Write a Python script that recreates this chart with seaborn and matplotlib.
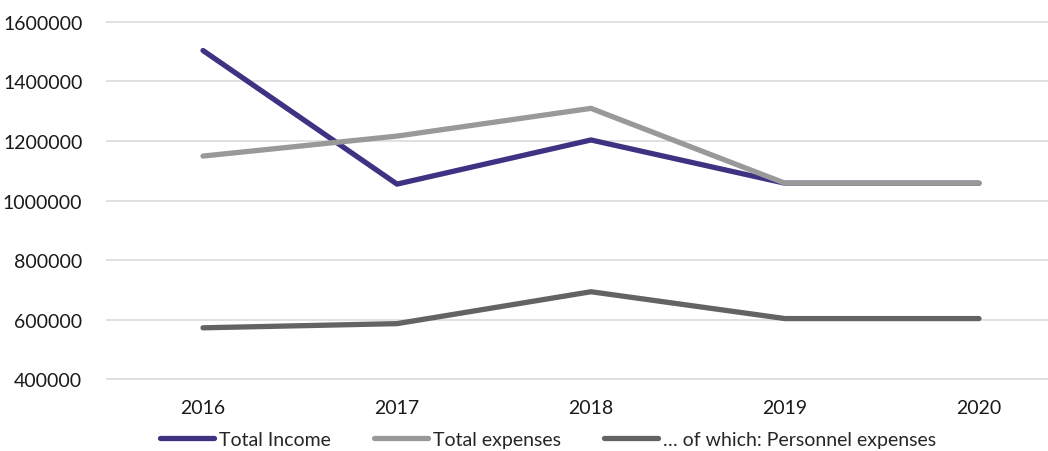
import pandas as pd
import matplotlib.pyplot as plt
import matplotlib.ticker as mticker
import seaborn as sns

# --- Datos ---
years = ['2016', '2017', '2018', '2019', '2020']
total_income = [1503000, 1055000, 1203000, 1058000, 1058000]
total_expenses = [1149000, 1216000, 1309000, 1058000, 1058000]
personnel_expenses = [573000, 587000, 694000, 604000, 604000]

series_names = ['Total Income', 'Total expenses', '\u2026 of which: Personnel expenses']
colors = ['#3d3382', '#999999', '#636363']

df = pd.DataFrame({
    'year': years * 3,
    'value': total_income + total_expenses + personnel_expenses,
    'series': [series_names[0]] * 5 + [series_names[1]] * 5 + [series_names[2]] * 5,
})

# --- Estilo ---
sns.set_style("white")
plt.rcParams['font.family'] = ['Lato', 'DejaVu Sans']

fig = plt.figure(figsize=(10.48, 4.52), dpi=100)
ax = fig.add_axes([106 / 1048, 1 - 381 / 452, 1 - 106 / 1048, (381 - 22) / 452])

sns.lineplot(data=df, x='year', y='value', hue='series', palette=colors,
             hue_order=series_names, linewidth=3.8, ax=ax, sort=False)
for line in ax.lines:
    line.set_solid_capstyle('round')
    line.set_solid_joinstyle('round')

ax.set_xlim(-0.5, 4 + (1048 - 979) / 194)
ax.set_ylim(398000, 1602000)
ax.set_yticks(range(400000, 1600001, 200000))
ax.yaxis.set_major_formatter(mticker.StrMethodFormatter('{x:.0f}'))
ax.yaxis.grid(True, color='#d9d9d9', linewidth=1.1)
ax.set_axisbelow(True)
for s in ax.spines.values():
    s.set_visible(False)
ax.tick_params(axis='both', length=0, labelsize=14, colors='#1a1a1a')
ax.tick_params(axis='y', pad=17)
ax.tick_params(axis='x', pad=14)
ax.set_xlabel('')
ax.set_ylabel('')

ax.legend(loc='center', bbox_to_anchor=(0.523, 0.025), bbox_transform=fig.transFigure,
          ncol=3, frameon=False, fontsize=14, handlelength=2.8, handletextpad=0.25,
          columnspacing=2.2, borderaxespad=0)

fig.savefig('out.png', dpi=100)
